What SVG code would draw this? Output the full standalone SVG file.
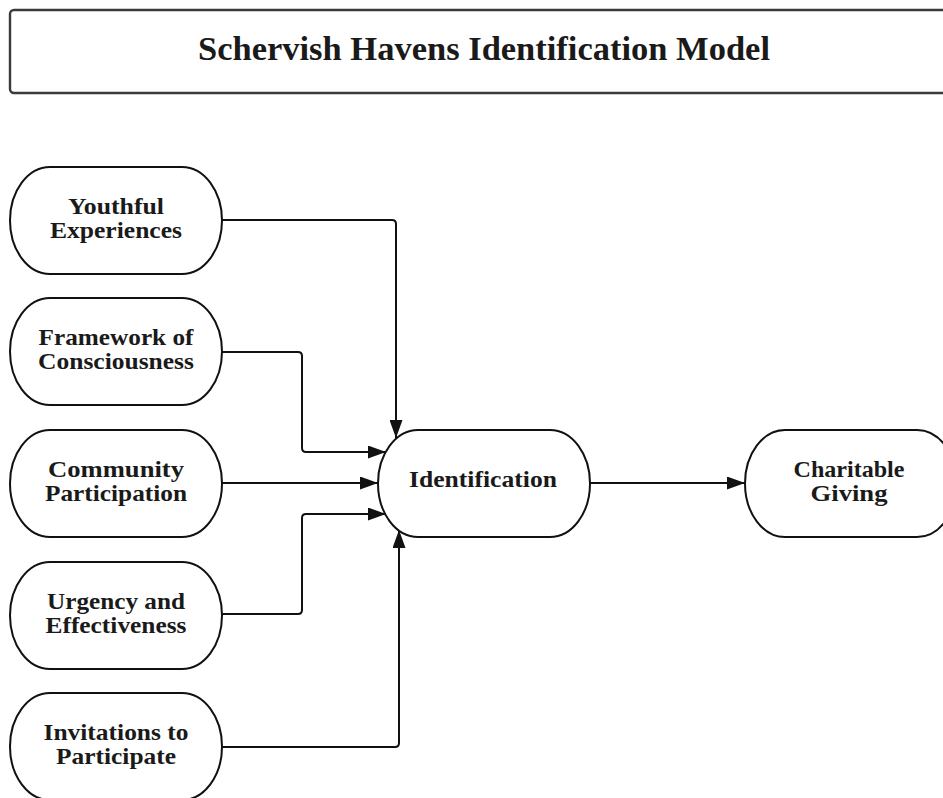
<svg xmlns="http://www.w3.org/2000/svg" width="943" height="798" viewBox="0 0 943 798">
  <style>
    .node { fill: #ffffff; stroke: #111111; stroke-width: 2; }
    .title-box { fill: #ffffff; stroke: #3a3a3a; stroke-width: 2.4; }
    .label { font-family: "Liberation Serif", "Times New Roman", serif; font-weight: bold; font-size: 23px; fill: #1a1a1a; text-anchor: middle; }
    .title { font-family: "Liberation Serif", "Times New Roman", serif; font-weight: bold; font-size: 33px; fill: #1a1a1a; text-anchor: middle; }
    .wire { fill: none; stroke: #111111; stroke-width: 2; marker-end: url(#arrow); }
  </style>
  <defs>
    <marker id="arrow" markerUnits="userSpaceOnUse" markerWidth="18" markerHeight="13" refX="18" refY="6.5" orient="auto">
      <path d="M0,0 L18,6.5 L0,13 z" fill="#111111"/>
    </marker>
  </defs>

  <rect width="943" height="798" fill="#ffffff"/>

  <!-- heading -->
  <g id="title">
    <rect class="title-box" x="10" y="10" width="945" height="83" rx="4" ry="4"/>
    <text class="title" x="484" y="60" textLength="572" lengthAdjust="spacingAndGlyphs">Schervish Havens Identification Model</text>
  </g>

  <!-- connectors -->
  <g id="connectors">
    <path class="wire" d="M222,220 H392 Q396,220 396,224 V438"/>
    <path class="wire" d="M222,352 H298 Q302,352 302,356 V448 Q302,452 306,452 H386"/>
    <path class="wire" d="M222,483 H378"/>
    <path class="wire" d="M222,614 H298 Q302,614 302,610 V518 Q302,514 306,514 H386"/>
    <path class="wire" d="M222,747 H395 Q399,747 399,743 V530"/>
    <path class="wire" d="M590,483 H745"/>
  </g>

  <!-- factor nodes -->
  <g id="youthful-experiences">
    <rect class="node" x="10" y="167" width="212" height="107" rx="40" ry="53.5"/>
    <text class="label" x="116" y="213.5" textLength="96" lengthAdjust="spacingAndGlyphs">Youthful</text>
    <text class="label" x="116" y="237.5" textLength="132" lengthAdjust="spacingAndGlyphs">Experiences</text>
  </g>
  <g id="framework-of-consciousness">
    <rect class="node" x="10" y="298" width="212" height="107" rx="40" ry="53.5"/>
    <text class="label" x="116" y="344.5" textLength="155" lengthAdjust="spacingAndGlyphs">Framework of</text>
    <text class="label" x="116" y="368.5" textLength="156" lengthAdjust="spacingAndGlyphs">Consciousness</text>
  </g>
  <g id="community-participation">
    <rect class="node" x="10" y="430" width="212" height="107" rx="40" ry="53.5"/>
    <text class="label" x="116" y="477" textLength="136" lengthAdjust="spacingAndGlyphs">Community</text>
    <text class="label" x="116" y="501" textLength="142" lengthAdjust="spacingAndGlyphs">Participation</text>
  </g>
  <g id="urgency-and-effectiveness">
    <rect class="node" x="10" y="562" width="212" height="107" rx="40" ry="53.5"/>
    <text class="label" x="116" y="609" textLength="138" lengthAdjust="spacingAndGlyphs">Urgency and</text>
    <text class="label" x="116" y="633" textLength="141" lengthAdjust="spacingAndGlyphs">Effectiveness</text>
  </g>
  <g id="invitations-to-participate">
    <rect class="node" x="10" y="693" width="212" height="107" rx="40" ry="53.5"/>
    <text class="label" x="116" y="740" textLength="145" lengthAdjust="spacingAndGlyphs">Invitations to</text>
    <text class="label" x="116" y="764" textLength="120" lengthAdjust="spacingAndGlyphs">Participate</text>
  </g>

  <!-- outcome nodes -->
  <g id="identification">
    <rect class="node" x="378" y="430" width="212" height="107" rx="40" ry="53.5"/>
    <text class="label" x="483" y="487" textLength="148" lengthAdjust="spacingAndGlyphs">Identification</text>
  </g>
  <g id="charitable-giving">
    <rect class="node" x="745" y="430" width="212" height="107" rx="40" ry="53.5"/>
    <text class="label" x="849" y="477" textLength="111" lengthAdjust="spacingAndGlyphs">Charitable</text>
    <text class="label" x="849" y="501" textLength="77" lengthAdjust="spacingAndGlyphs">Giving</text>
  </g>
</svg>
